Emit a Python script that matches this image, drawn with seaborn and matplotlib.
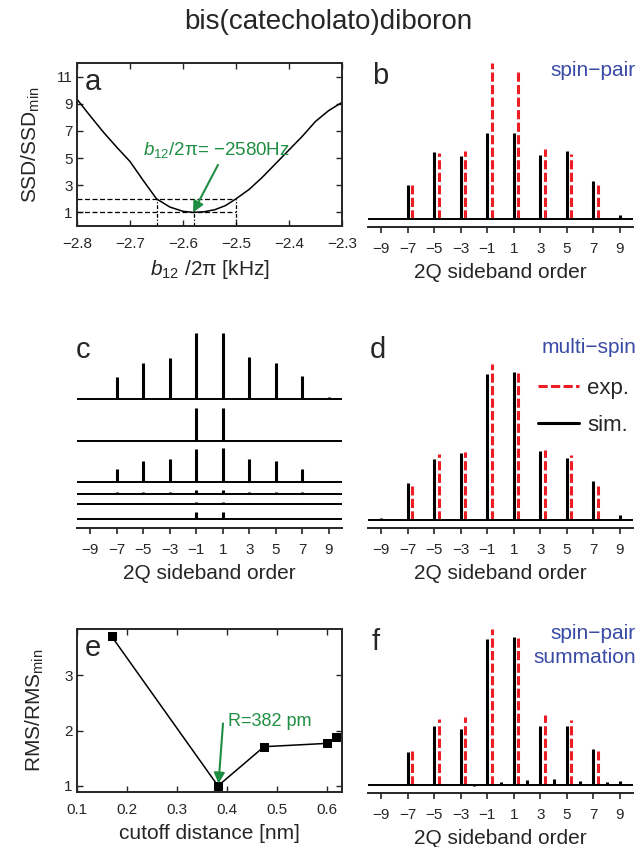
import numpy as np
import pandas as pd
import matplotlib
matplotlib.use("Agg")
import matplotlib.pyplot as plt
from matplotlib.lines import Line2D
import seaborn as sns

sns.set_style("ticks")
plt.rcParams['font.family'] = ['Liberation Sans', 'DejaVu Sans']
plt.rcParams['mathtext.fontset'] = 'custom'
plt.rcParams['mathtext.rm'] = 'Liberation Sans'
plt.rcParams['mathtext.it'] = 'Liberation Sans:italic'
plt.rcParams['axes.unicode_minus'] = True

# ---------------- data ----------------
# (a) SSD ratio versus dipolar coupling
b12_khz = [-2.800, -2.775, -2.750, -2.725, -2.700, -2.675, -2.650, -2.625,
           -2.600, -2.580, -2.560, -2.540, -2.520, -2.500, -2.475, -2.450,
           -2.425, -2.400, -2.375, -2.350, -2.325, -2.300]
ssd_ratio = [9.33, 8.10, 6.90, 5.80, 4.75, 3.35, 2.00, 1.40,
             1.08, 1.00, 1.05, 1.20, 1.50, 2.00, 2.70, 3.60,
             4.60, 5.60, 6.60, 7.70, 8.50, 9.10]
ssd_levels = [1, 2]
b12_marks = [-2.65, -2.58, -2.50]

# 2Q sideband orders
orders = [-9, -7, -5, -3, -1, 1, 3, 5, 7, 9]
orders_all = list(range(-9, 10))

# experimental sideband intensities (shared by b, d, f)
exp_int = [0.1, 3.4, 6.6, 6.8, 15.6, 15.0, 7.0, 6.5, 3.4, 0.1]
# (b) spin-pair simulation
sim_pair = [0.0, 3.4, 6.7, 6.3, 8.6, 8.6, 6.4, 6.8, 3.8, 0.4]
# (d) multi-spin simulation
sim_multi = [0.2, 3.7, 6.1, 6.7, 14.6, 14.8, 6.9, 6.2, 3.9, 0.5]
# (f) spin-pair summation, all integer orders
sim_sum = [0.1, 0.1, 3.3, 0.1, 5.9, 0.0, 5.6, -0.15, 14.6, 0.25,
           14.8, 0.5, 5.9, 0.6, 5.9, 0.35, 3.6, 0.3, 0.4]

# (c) stacked traces, top to bottom
c_trace1 = [0.1, 2.2, 3.6, 4.1, 6.6, 6.6, 4.2, 3.6, 2.3, 0.2]
c_trace2 = [0.1, 0.1, 0.0, 0.0, 3.3, 3.3, 0.0, 0.0, 0.0, 0.0]
c_trace3 = [0.0, 1.3, 2.1, 2.3, 3.3, 3.4, 2.3, 2.1, 1.3, 0.1]
c_trace4 = [0.0, 0.17, 0.17, 0.17, 0.33, 0.33, 0.17, 0.17, 0.13, 0.1]
c_trace5 = [0.1, 0.1, 0.1, 0.1, 0.17, 0.17, 0.1, 0.1, 0.1, 0.1]
c_trace6 = [0.0, 0.0, 0.0, 0.0, 0.7, 0.7, 0.1, 0.1, 0.1, 0.1]

# (e) RMS ratio versus cutoff distance
cutoff_nm = [0.169, 0.382, 0.474, 0.600, 0.619]
rms_ratio = [3.71, 1.00, 1.71, 1.77, 1.88]

# ---------------- style ----------------
RED = '#ee1d23'
BLUE = '#3a4ba6'
GREEN = '#1f8e42'
TICK_FS = 11
LABEL_FS = 15
PANEL_FS = 21
DASH = (0, (3.0, 1.1))

W, H = 638, 847
fig = plt.figure(figsize=(W / 100, H / 100), dpi=100)


def box(x0, y0, x1, y1):
    return fig.add_axes([x0 / W, 1 - y1 / H, (x1 - x0) / W, (y1 - y0) / H])


def ftext(x, y, s, **kw):
    fig.text(x / W, 1 - y / H, s, **kw)


def stick_axis(ax):
    for s in ['left', 'right', 'top']:
        ax.spines[s].set_visible(False)
    ax.spines['bottom'].set_linewidth(1.4)
    ax.set_xlim(-10, 10)
    ax.set_yticks([])
    ax.set_xticks(orders)
    ax.tick_params(axis='x', direction='out', length=4, width=1.2,
                   labelsize=TICK_FS, pad=7)
    ax.set_xlabel('2Q sideband order', fontsize=LABEL_FS, labelpad=5)
    ax.set_facecolor('none')


def stick_panel(ax, sim_x, sim_y):
    ax.vlines(sim_x, 0, sim_y, colors='k', lw=2.2, clip_on=False)
    ax.vlines(np.array(orders) + 0.35, 0, exp_int, colors=RED, lw=2.2,
              linestyles=[DASH], clip_on=False)
    ax.axhline(0, color='k', lw=1.4)
    ax.set_ylim(-0.85, 15.55)
    stick_axis(ax)


def box_axis(ax):
    ax.tick_params(direction='in', top=True, right=True, length=4, width=1.0,
                   labelsize=TICK_FS)
    ax.tick_params(axis='x', pad=8)
    ax.tick_params(axis='y', pad=3)
    for s in ax.spines.values():
        s.set_linewidth(1.4)


fig.text(328 / W, 1 - 22 / H, 'bis(catecholato)diboron', ha='center',
         va='center', fontsize=20)

# ---------------- (a) ----------------
ax = box(77, 63, 342, 226)
df_a = pd.DataFrame({'b12': b12_khz, 'ssd': ssd_ratio})
sns.lineplot(data=df_a, x='b12', y='ssd', ax=ax, color='k', lw=1.1)
for lev in ssd_levels:
    ax.plot([-2.8, b12_marks[-1]], [lev, lev], color='k', lw=0.9, ls=(0, (4, 2)))
for xm in b12_marks:
    ax.plot([xm, xm], [0, 2], color='k', lw=0.9, ls=(0, (3, 1.5, 1, 1.5)))
ax.set_xlim(-2.8, -2.3)
ax.set_ylim(0, 12)
ax.set_xticks([-2.8, -2.7, -2.6, -2.5, -2.4, -2.3])
ax.set_yticks([1, 3, 5, 7, 9, 11])
box_axis(ax)
ax.set_xlabel(r'$b_{12}$ /2π [kHz]', fontsize=LABEL_FS, labelpad=5)
ax.set_ylabel(r'SSD/SSD$_{\rm min}$', fontsize=LABEL_FS, labelpad=11)
ax.text(-2.675, 5.6, r'$b_{12}$/2π= −2580Hz', color=GREEN, fontsize=13.5,
        va='center', ha='left')
ax.annotate('', xy=(-2.581, 1.0), xytext=(-2.534, 4.5),
            arrowprops=dict(arrowstyle='-|>', color=GREEN, lw=1.5,
                            mutation_scale=16, shrinkA=0, shrinkB=0))
ax.text(0.03, 0.97, 'a', transform=ax.transAxes, fontsize=PANEL_FS,
        va='top', ha='left')

# ---------------- (b) ----------------
ax = box(368, 63, 633, 227)
stick_panel(ax, orders, sim_pair)
ftext(372, 76, 'b', fontsize=PANEL_FS, va='center', ha='left')
ftext(636, 70, 'spin−pair', fontsize=15, color=BLUE, ha='right', va='center')

# ---------------- (c) ----------------
ax = box(77, 330, 342, 528)
c_traces = [c_trace1, c_trace2, c_trace3, c_trace4, c_trace5, c_trace6]
c_offsets = [12.9, 8.74, 4.57, 3.44, 2.4, 0.87]
for trace, off in zip(c_traces, c_offsets):
    ax.axhline(off, color='k', lw=1.4)
    ax.vlines(orders, off, off + np.array(trace), colors='k', lw=2.2,
              clip_on=False)
ax.set_ylim(0, 19.8)
stick_axis(ax)
ftext(76, 350, 'c', fontsize=PANEL_FS, va='center', ha='left')

# ---------------- (d) ----------------
ax = box(368, 364, 633, 528)
stick_panel(ax, orders, sim_multi)
ftext(370, 350, 'd', fontsize=PANEL_FS, va='center', ha='left')
ftext(636, 347, 'multi−spin', fontsize=15, color=BLUE, ha='right', va='center')
handles = [Line2D([], [], color=RED, lw=2.2, ls=DASH),
           Line2D([], [], color='k', lw=2.2)]
fig.legend(handles, ['exp.', 'sim.'], loc='upper left',
           bbox_to_anchor=(538 / W, 1 - 378 / H), frameon=False,
           fontsize=16, handlelength=1.85, handletextpad=0.35,
           borderpad=0, borderaxespad=0, labelspacing=0.7)

# ---------------- (e) ----------------
ax = box(77, 629, 342, 792)
df_e = pd.DataFrame({'cutoff': cutoff_nm, 'rms': rms_ratio})
sns.lineplot(data=df_e, x='cutoff', y='rms', ax=ax, color='k', lw=1.1,
             marker='s', markersize=6, markeredgecolor='k', clip_on=False)
ax.set_xlim(0.1, 0.63)
ax.set_ylim(0.89, 3.84)
ax.set_xticks([0.1, 0.2, 0.3, 0.4, 0.5, 0.6])
ax.set_yticks([1, 2, 3])
box_axis(ax)
ax.set_xlabel('cutoff distance [nm]', fontsize=LABEL_FS, labelpad=5)
ax.set_ylabel(r'RMS/RMS$_{\rm min}$', fontsize=LABEL_FS, labelpad=13)
ax.text(0.401, 2.16, 'R=382 pm', color=GREEN, fontsize=13, va='center',
        ha='left')
ax.annotate('', xy=(0.383, 1.04), xytext=(0.392, 2.13),
            arrowprops=dict(arrowstyle='-|>', color=GREEN, lw=1.5,
                            mutation_scale=16, shrinkA=0, shrinkB=0))
ax.text(0.03, 0.97, 'e', transform=ax.transAxes, fontsize=PANEL_FS,
        va='top', ha='left')

# ---------------- (f) ----------------
ax = box(368, 629, 633, 793)
stick_panel(ax, orders_all, sim_sum)
ftext(372, 642, 'f', fontsize=PANEL_FS, va='center', ha='left')
ftext(636, 633, 'spin−pair', fontsize=15, color=BLUE, ha='right', va='center')
ftext(636, 657, 'summation', fontsize=15, color=BLUE, ha='right', va='center')

fig.savefig('out.png', dpi=100)
